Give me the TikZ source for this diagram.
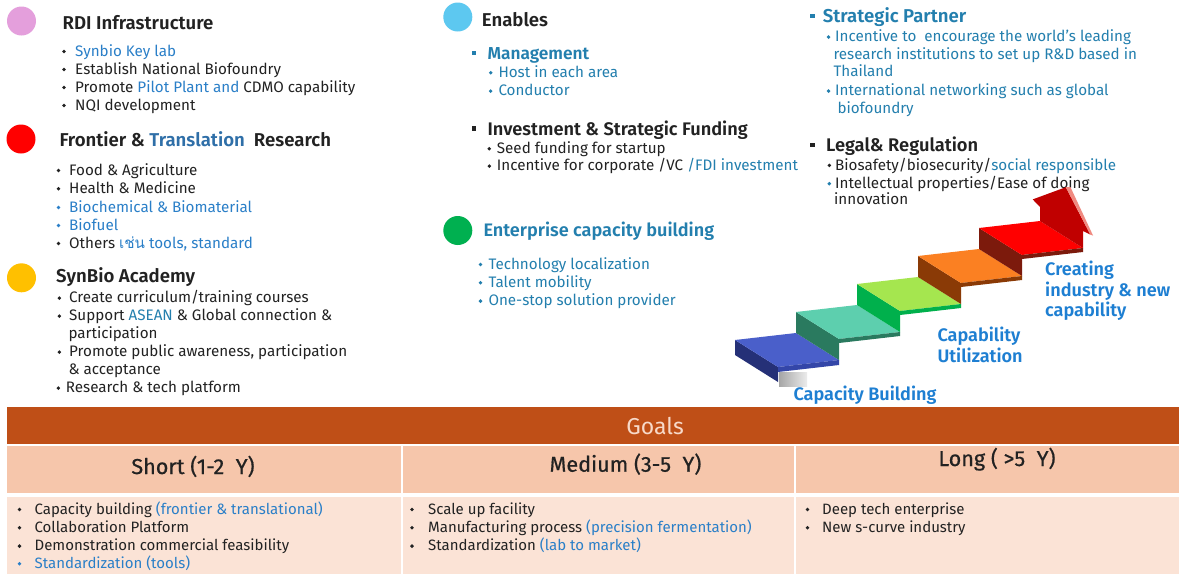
\documentclass[tikz,border=0pt]{standalone}
\usepackage{fontspec}
\setmainfont{Fira Sans}[BoldFont={Fira Sans SemiBold}]
\newfontfamily\thaifont[Script=Thai]{Loma}
\usetikzlibrary{shadings}
\newcommand\fsz[1]{\fontsize{#1}{#1}\selectfont}
\definecolor{ink}{HTML}{222222}
\definecolor{blueA}{HTML}{2A7FC8}
\definecolor{blueB}{HTML}{237FAE}
\definecolor{blueT}{HTML}{2F6FA8}
\definecolor{stepblue}{HTML}{1E7FD2}
\definecolor{pinkdot}{HTML}{E49FDC}
\definecolor{yellowdot}{HTML}{FFC000}
\definecolor{skydot}{HTML}{5DC8F0}
\definecolor{greendot}{HTML}{00B050}
\definecolor{goalbar}{HTML}{BF4F17}
\definecolor{goaltext}{HTML}{F7D9C9}
\definecolor{rowhead}{HTML}{F6C6AB}
\definecolor{rowbody}{HTML}{FBE3D6}
% staircase colours
\definecolor{sBlue}{HTML}{4A5FCA}\definecolor{sBlueD}{HTML}{253077}\definecolor{sBlueF}{HTML}{3446A8}
\definecolor{sTeal}{HTML}{5DCFAE}\definecolor{sTealD}{HTML}{2A7A5F}
\definecolor{sLime}{HTML}{A5E64F}\definecolor{sLimeD}{HTML}{00B04C}
\definecolor{sOrange}{HTML}{FB8022}\definecolor{sOrangeD}{HTML}{8A3A06}
\definecolor{sRed}{HTML}{FF0000}\definecolor{sRedD}{HTML}{7C1A0C}
\definecolor{sArrow}{HTML}{C00000}\definecolor{sArrowL}{HTML}{F08A80}
\tikzset{
  txt/.style={anchor=base west,inner sep=0pt,text=ink,font=\fsz{15.2}},
  blu/.style={txt,text=blueB},
  head/.style={anchor=base west,inner sep=0pt,text=ink,font=\fsz{18.6}\bfseries},
  sub/.style={head},
  tbl/.style={anchor=base west,inner sep=0pt,text=ink,font=\fsz{15}},
  colhead/.style={anchor=base,inner sep=0pt,text=ink,font=\fsz{21.6}\addfontfeature{FakeBold=0.6}},
  steplbl/.style={anchor=base west,inner sep=0pt,text=stepblue,font=\fsz{18.1}\bfseries},
  bigdot/.style={circle,inner sep=0pt,minimum size=29pt},
}
% bullet dot: x, baseline, colour
\newcommand\bdot[3]{\fill[#3] (#1,#2-4.6) circle (1.9pt);}
\newcommand\sqb[3]{\fill[#3] (#1,#2-8.8) rectangle ++(4.6,4.4);}
\begin{document}
\begin{tikzpicture}[x=1pt,y=-1pt]
\useasboundingbox (0,0) rectangle (1179,574);
\fill[white] (0,0) rectangle (1179,574);

% ---------- left column ----------
\node[bigdot,fill=pinkdot] (c1) at (21.5,21) {};
\node[head] (h1) at (62.5,29.3) {RDI Infrastructure};
\bdot{64}{56}{ink}\node[txt,text=blueA] (a1) at (75,56) {Synbio Key lab};
\bdot{64}{74}{ink}\node[txt] (a2) at (75,74) {Establish National Biofoundry};
\bdot{64}{92}{ink}\node[txt] (a3) at (75,92) {Promote \textcolor{blueA}{Pilot Plant and} CDMO capability};
\bdot{64}{110}{ink}\node[txt] (a4) at (75,110) {NQI development};

\node[bigdot,fill=red] (c2) at (21,139) {};
\node[head] (h2) at (59.3,146) {Frontier \& \textcolor{blueT}{Translation}\ \ Research};
\bdot{58.5}{175}{ink}\node[txt] (b1) at (69,175) {Food \& Agriculture};
\bdot{58.5}{193.3}{ink}\node[txt] (b2) at (69,193.3) {Health \& Medicine};
\bdot{58.5}{212}{blueA}\node[txt,text=blueA] (b3) at (69,212) {Biochemical \& Biomaterial};
\bdot{58.5}{230}{blueA}\node[txt,text=blueA] (b4) at (69,230) {Biofuel};
\bdot{58.5}{248}{ink}\node[txt] (b5) at (69,248) {Others \textcolor{blueA}{{\thaifont เช่น} tools, standard}};

\node[bigdot,fill=yellowdot] (c3) at (21.5,277.8) {};
\node[head] (h3) at (56,282.3) {SynBio Academy};
\bdot{59.3}{302.7}{ink}\node[txt] (d1) at (69,302.7) {Create curriculum/training courses};
\bdot{59.3}{320.7}{ink}\node[txt] (d2) at (69,320.7) {Support \textcolor{blueB}{ASEAN} \& Global connection \&};
\node[txt] (d3) at (68.3,338) {participation};
\bdot{59.3}{356.7}{ink}\node[txt] (d4) at (69,356.7) {Promote public awareness, participation};
\node[txt] (d5) at (68.3,374.3) {\& acceptance};
\bdot{58.3}{392.7}{ink}\node[txt] (d6) at (65.7,392.7) {Research \& tech platform};

% ---------- middle column ----------
\node[bigdot,fill=skydot] (c4) at (457.8,17) {};
\node[head] (h4) at (481.7,26.7) {Enables};
\sqb{471.7}{59.3}{blueB}\node[sub,text=blueB,font=\fsz{17.3}\bfseries] (e1) at (487.3,59.3) {Management};
\bdot{490.7}{77.3}{blueB}\node[blu] (e2) at (498.3,77.3) {Host in each area};
\bdot{490.7}{95.7}{blueB}\node[blu] (e3) at (498.3,95.7) {Conductor};
\sqb{471.7}{135}{ink}\node[sub,font=\fsz{18.2}\bfseries] (f1) at (487.3,135) {Investment \& Strategic Funding};
\bdot{489.3}{153.3}{ink}\node[txt] (f2) at (496.7,153.3) {Seed funding for startup};
\bdot{489.3}{170.7}{ink}\node[txt] (f3) at (496.7,170.7) {Incentive for corporate /VC \textcolor{blueB}{/FDI investment}};

\node[bigdot,fill=greendot] (c5) at (457.8,230.5) {};
\node[sub,text=blueB,font=\fsz{18.1}\bfseries] (g1) at (483.3,236.7) {Enterprise capacity building};
\bdot{480.5}{269}{blueB}\node[blu] (g2) at (488.3,269) {Technology localization};
\bdot{480.5}{287.3}{blueB}\node[blu] (g3) at (488.3,287.3) {Talent mobility};
\bdot{480.5}{305.7}{blueB}\node[blu] (g4) at (488.3,305.7) {One-stop solution provider};

% ---------- right column ----------
\sqb{810}{22.7}{blueB}\node[sub,text=blueB] (k1) at (822.7,22.7) {Strategic Partner};
\bdot{828.5}{41.7}{blueB}\node[blu] (k2) at (835,41.7) {Incentive to\ \ encourage the world’s leading};
\node[blu] (k3) at (833.3,59.3) {research institutions to set up R\&D based in};
\node[blu] (k4) at (833.3,76.7) {Thailand};
\bdot{828.5}{95.7}{blueB}\node[blu] (k5) at (835,95.7) {International networking such as global};
\node[blu] (k6) at (837.3,113.3) {biofoundry};
\sqb{810}{151.7}{ink}\node[sub,font=\fsz{18.3}\bfseries] (l1) at (826,151.7) {Legal\& Regulation};
\bdot{829.3}{170}{ink}\node[txt] (l2) at (835,170) {Biosafety/biosecurity/\textcolor{blueB}{social responsible}};
\bdot{829.3}{188.3}{blueB}\node[txt] (l3) at (835,188.3) {Intellectual properties/Ease of doing};
\node[txt] (l4) at (834,204) {innovation};

% ---------- staircase ----------
% step i: back-left corner B_i = (735+61i, 340-28i); run w=(61,-7); depth d=(43,27); riser 21
\fill[sBlueD] (735,340) -- (778,367) -- (778,382) -- (735,355) -- cycle;
\shade[left color=gray!70,right color=gray!15] (779,372) rectangle (807,386);
\fill[sBlue] (735,340) -- (796,333) -- (839,360) -- (778,367) -- cycle;
\fill[sBlueF] (778,367) -- (839,360) -- (839,365) -- (778,372) -- cycle;
\foreach \i/\top/\side in {1/sTeal/sTealD,2/sLime/sLimeD,3/sOrange/sOrangeD,4/sRed/sRedD}{
  \pgfmathsetmacro\bx{735+61*\i}
  \pgfmathsetmacro\by{340-28*\i}
  % riser
  \fill[\side] (\bx,\by) -- ++(43,27) -- ++(0,21) -- ++(-43,-27) -- cycle;
  % tread
  \fill[\top] (\bx,\by) -- ++(61,-7) -- ++(43,27) -- ++(-61,7) -- cycle;
  % front edge of tread
  \fill[\side] (\bx+43,\by+27) -- ++(61,-7) -- ++(0,4) -- ++(-61,7) -- cycle;
}
% arrow rising from the top step
\fill[sArrow] (1040,221) -- (1040,207) -- (1032.7,199.4) -- (1065.8,187.2)
  -- (1090.3,234.6) -- (1083,231) -- (1083,248) -- cycle;
\fill[sArrowL] (1065.8,187.2) -- (1070.5,187.2) -- (1093,235.5) -- (1090.3,234.6) -- cycle;

\node[steplbl] (s1) at (793.3,400.7) {Capacity Building};
\node[steplbl] (s2) at (937.3,341.7) {Capability};
\node[steplbl] (s3) at (937.3,362.7) {Utilization};
\node[steplbl] (s4) at (1045,275.7) {Creating};
\node[steplbl] (s5) at (1045,296.7) {industry \& new};
\node[steplbl] (s6) at (1045,316.7) {capability};

% ---------- goals table ----------
\fill[goalbar] (7,407) rectangle (1179,444);
\node[anchor=base,inner sep=0pt,text=goaltext,font=\fsz{23}] (goals) at (655,434.3) {Goals};
\fill[rowhead] (7,446) rectangle (400.5,493.3);
\fill[rowhead] (402.5,446) rectangle (794,493.3);
\fill[rowhead] (796,446) rectangle (1179,493.3);
\fill[rowbody] (7,497.3) rectangle (400.5,574);
\fill[rowbody] (402.5,497.3) rectangle (794,574);
\fill[rowbody] (796,497.3) rectangle (1179,574);
\node[colhead] (t1) at (193,474) {Short (1-2\ \ Y)};
\node[colhead] (t2) at (625.5,471.7) {Medium (3-5\ \ Y)};
\node[colhead] (t3) at (997,466) {Long ( >5\ \ Y)};

\bdot{19.5}{514}{ink}\node[tbl] (p1) at (34.4,514) {Capacity building \textcolor{blueA}{(frontier \& translational)}};
\bdot{19.5}{532.3}{ink}\node[tbl] (p2) at (34.4,532.3) {Collaboration Platform};
\bdot{19.5}{550.7}{ink}\node[tbl] (p3) at (34.4,550.7) {Demonstration commercial feasibility};
\bdot{19.5}{568.3}{blueA}\node[tbl,text=blueA] (p4) at (34.4,568.3) {Standardization (tools)};
\bdot{412}{514}{ink}\node[tbl] (q1) at (428,514) {Scale up facility};
\bdot{412}{532.3}{ink}\node[tbl] (q2) at (428,532.3) {Manufacturing process \textcolor{blueA}{(precision fermentation)}};
\bdot{412}{550.7}{ink}\node[tbl] (q3) at (428,550.7) {Standardization \textcolor{blueA}{(lab to market)}};
\bdot{807.5}{514}{ink}\node[tbl] (r1) at (822,514) {Deep tech enterprise};
\bdot{807.5}{532.3}{ink}\node[tbl] (r2) at (822,532.3) {New s-curve industry};
\end{tikzpicture}
\end{document}
